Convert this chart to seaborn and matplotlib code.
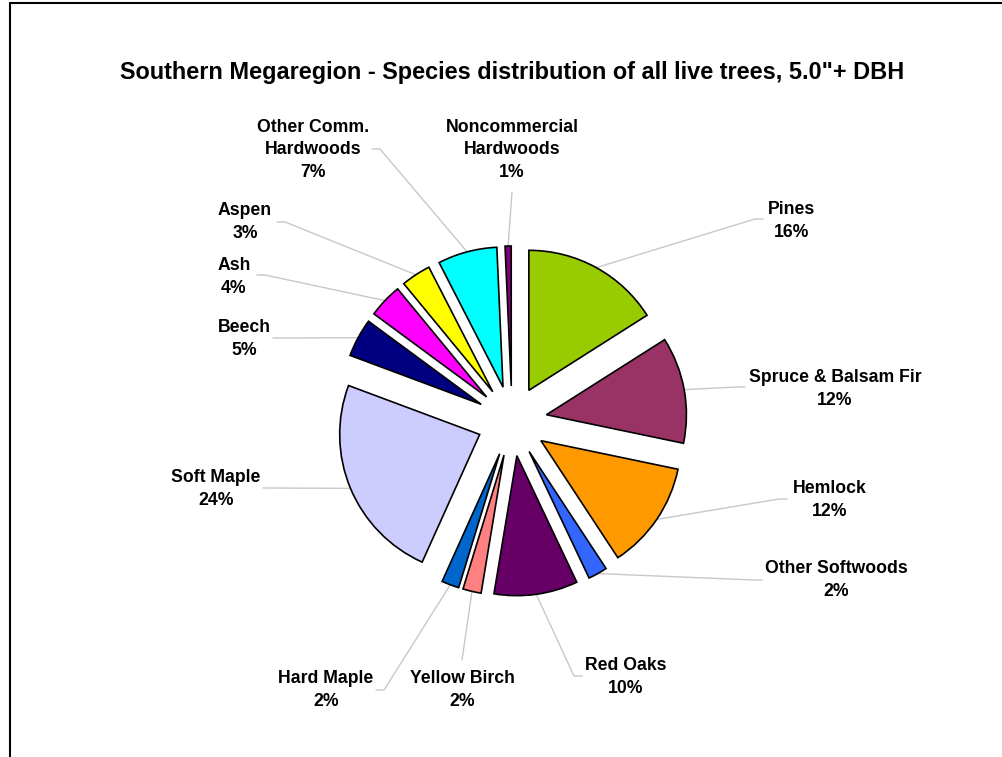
import numpy as np
import matplotlib
matplotlib.use("Agg")
import matplotlib.pyplot as plt
import seaborn as sns
from matplotlib.lines import Line2D

# Data (clockwise from 12 o'clock)
species = ["Pines", "Spruce & Balsam Fir", "Hemlock", "Other Softwoods", "Red Oaks",
           "Yellow Birch", "Hard Maple", "Soft Maple", "Beech", "Ash", "Aspen",
           "Other Comm.\nHardwoods", "Noncommercial\nHardwoods"]
shares = [15.9, 12.2, 12.4, 2.2, 9.6, 2.1, 2.0, 23.8, 4.4, 3.9, 3.4, 6.8, 0.7]
pct_text = ["16%", "12%", "12%", "2%", "10%", "2%", "2%", "24%", "5%", "4%", "3%", "7%", "1%"]
colors = ["#99CC00", "#993366", "#FF9900", "#3366FF", "#660066", "#FF8080", "#0066CC",
          "#CCCCFF", "#000080", "#FF00FF", "#FFFF00", "#00FFFF", "#800080"]

# Layout (pixel coordinates, y downward)
W, H = 1003, 757
cx, cy, rad, expl = 512, 421, 140, 35
label_xy = [(792, 221), (835, 389), (830, 500), (836, 580), (626, 677), (462, 690),
            (326, 690), (216, 489), (244, 339), (234, 277), (245, 222), (313, 150), (512, 150)]
leader_xy = [(763, 219), (745, 387), (787, 499), (762, 580), (582, 676), (462, 660),
             (376, 690), (263, 488), (273, 338), (257, 275), (277, 222), (372, 149), (512, 192)]

sns.set_theme(style="white")
plt.rcParams["font.family"] = ["Liberation Sans", "DejaVu Sans"]

fig = plt.figure(figsize=(W / 100, H / 100), dpi=100)
ax = fig.add_axes([0, 0, 1, 1])

wedges, _ = ax.pie(shares, colors=colors, startangle=-90, counterclock=True,
                   radius=rad, center=(cx, cy), explode=[expl] * len(shares),
                   wedgeprops=dict(edgecolor="black", linewidth=1.2))
ax.set_xlim(0, W)
ax.set_ylim(H, 0)
ax.set_aspect("equal")
ax.axis("off")

for w, name, pct, (tx, ty), (lx, ly) in zip(wedges, species, pct_text, label_xy, leader_xy):
    mid = np.deg2rad((w.theta1 + w.theta2) / 2)
    ex = w.center[0] + w.r * np.cos(mid)
    ey = w.center[1] + w.r * np.sin(mid)
    if abs(lx - cx) > 60:
        step = 8 if lx < cx else -8
        xs, ys = [lx, lx + step, ex], [ly, ly, ey]
    else:
        xs, ys = [lx, ex], [ly, ey]
    ax.plot(xs, ys, color="#c8c8c8", lw=1.0, zorder=0)
    ax.text(tx, ty, name + "\n" + pct, ha="center", va="center", fontsize=12.7,
            fontweight="bold", linespacing=1.42, color="black")

ax.text(512, 72, "Southern Megaregion - Species distribution of all live trees, 5.0\"+ DBH",
        ha="center", va="center", fontsize=16.9, fontweight="bold", color="black")

# slide frame
fig.add_artist(Line2D([10 / W, 1], [1 - 3 / H, 1 - 3 / H], transform=fig.transFigure,
                      color="black", lw=1.5))
fig.add_artist(Line2D([10 / W, 10 / W], [0, 1 - 3 / H], transform=fig.transFigure,
                      color="black", lw=1.5))

fig.savefig("out.png", dpi=100, facecolor="white")
